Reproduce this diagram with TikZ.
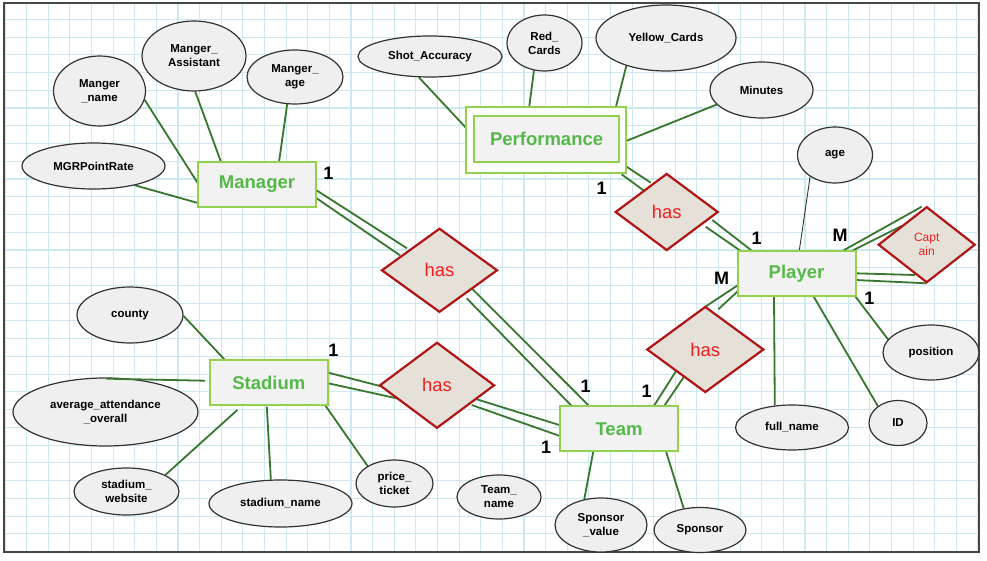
\documentclass[tikz,border=0pt]{standalone}
\usepackage{fontspec}
\setmainfont{Liberation Sans}
\usetikzlibrary{shapes.geometric}
\pgfdeclarelayer{gridlayer}
\pgfdeclarelayer{linklayer}
\pgfsetlayers{gridlayer,linklayer,main}
\definecolor{gridblue}{RGB}{204,232,240}
\definecolor{framegray}{RGB}{70,70,70}
\definecolor{linkgreen}{RGB}{56,118,45}
\definecolor{entborder}{RGB}{146,208,80}
\definecolor{enttext}{RGB}{84,185,72}
\definecolor{entfill}{RGB}{242,242,242}
\definecolor{attrfill}{RGB}{239,239,239}
\definecolor{attrborder}{RGB}{50,50,50}
\definecolor{relfill}{RGB}{230,225,216}
\definecolor{relborder}{RGB}{176,20,20}
\definecolor{reltext}{RGB}{240,30,30}
\tikzset{
  gridline/.style={draw=gridblue, line width=1.1},
  erbox/.style={draw=entborder, line width=2, fill=entfill, text=enttext,
    font=\fontsize{18.5}{20}\selectfont\bfseries, minimum width=118, minimum height=45, inner sep=0},
  erel/.style={diamond, draw=relborder, line width=2.2, fill=relfill, text=reltext,
    font=\fontsize{18.4}{20}\selectfont, inner sep=0},
  erattr/.style={ellipse, draw=attrborder, line width=1.2, fill=attrfill, inner sep=0,
    align=center, font=\fontsize{11.5}{14}\selectfont\bfseries},
  erlink/.style={draw=linkgreen, line width=1.8},
  thinlink/.style={draw=black!80, line width=0.9},
  ercard/.style={font=\fontsize{18}{20}\selectfont\bfseries, inner sep=0}
}
\begin{document}
\begin{tikzpicture}[x=1pt,y=-1pt]
\useasboundingbox (0,0) rectangle (987,561);
\begin{pgfonlayer}{gridlayer}
  \fill[white] (0,0) rectangle (987,561);
  \begin{scope}
    \clip (4,3) rectangle (979,552);
    \foreach \i in {0,...,45} \draw[gridline] ({5.08+21.62*\i},3) -- ({5.08+21.62*\i},552);
    \foreach \j in {0,...,31} \draw[gridline] (4,{1.6+17.74*\j}) -- (979,{1.6+17.74*\j});
  \end{scope}
  \draw[draw=framegray, line width=1.5] (4,3) rectangle (979,552);
\end{pgfonlayer}

% entities
\node[erbox] (mgr) at (257,184.5) {Manager};
\node[draw=entborder, line width=2, fill=white, minimum width=160, minimum height=66, inner sep=0] (perf) at (546.4,140) {};
\node[erbox, minimum width=145, minimum height=46] (perfin) at (546.6,139) {Performance};
\node[erbox] (player) at (796.5,273.5) {Player};
\node[erbox] (stadium) at (268.8,382.7) {Stadium};
\node[erbox] (team) at (619,428.8) {Team};

% relationships
\node[erel, minimum width=116, minimum height=84] (hasA) at (439.5,270.3) {has};
\node[erel, minimum width=115, minimum height=86] (hasB) at (437,385.3) {has};
\node[erel, minimum width=103, minimum height=77] (hasC) at (666.7,212) {has};
\node[erel, minimum width=117, minimum height=86] (hasD) at (705.3,349.5) {has};
\node[erel, minimum width=97, minimum height=76, align=center, font=\fontsize{12}{14}\selectfont] (cap) at (926.7,244.7) {Capt\\ain};

% attributes
\node[erattr, minimum width=92, minimum height=70] (mname) at (99.5,91) {Manger\\\_name};
\node[erattr, minimum width=104, minimum height=70] (massist) at (194,56) {Manger\_\\Assistant};
\node[erattr, minimum width=96, minimum height=54] (mage) at (295,77) {Manger\_\\age};
\node[erattr, minimum width=143, minimum height=46] (mgrpr) at (93.5,166) {MGRPointRate};
\node[erattr, minimum width=144, minimum height=41] (shot) at (430,56.5) {Shot\_Accuracy};
\node[erattr, minimum width=75, minimum height=56] (red) at (544.5,43) {Red\_\\Cards};
\node[erattr, minimum width=140, minimum height=66] (yellow) at (666,38) {Yellow\_Cards};
\node[erattr, minimum width=103, minimum height=56] (minutes) at (761.5,90) {Minutes};
\node[erattr, minimum width=75, minimum height=56] (age) at (835,155) {age};
\node[erattr, minimum width=96, minimum height=55] (position) at (931,352.5) {position};
\node[erattr, minimum width=58, minimum height=45] (idattr) at (898,423) {ID};
\node[erattr, minimum width=113, minimum height=45] (fullname) at (792,427.5) {full\_name};
\node[erattr, minimum width=92, minimum height=45] (sponsor) at (700,530) {Sponsor};
\node[erattr, minimum width=92, minimum height=54] (sval) at (601,525) {Sponsor\\\_value};
\node[erattr, minimum width=84, minimum height=44] (tname) at (499,497) {Team\_\\name};
\node[erattr, minimum width=106, minimum height=56] (county) at (130,315) {county};
\node[erattr, minimum width=185, minimum height=68] (avg) at (105.5,412) {average\_attendance\\\_overall};
\node[erattr, minimum width=105, minimum height=47] (website) at (126.5,491.5) {stadium\_\\website};
\node[erattr, minimum width=143, minimum height=47] (sname) at (280.5,503.5) {stadium\_name};
\node[erattr, minimum width=77, minimum height=47] (price) at (394.5,483.5) {price\_\\ticket};

% cardinalities
\node[ercard] (c1) at (328.3,173.3) {1};
\node[ercard] (c2) at (601.7,188.3) {1};
\node[ercard] (c3) at (756.7,238.3) {1};
\node[ercard] (c4) at (840,235) {M};
\node[ercard] (c5) at (721.7,278.3) {M};
\node[ercard] (c6) at (869.3,298.3) {1};
\node[ercard] (c7) at (333.3,350) {1};
\node[ercard] (c8) at (585.7,386.7) {1};
\node[ercard] (c9) at (646.7,391.7) {1};
\node[ercard] (c10) at (546,447.5) {1};

\draw[erlink] ([shift={(1,1.3)}]avg.north) -- ([shift={(-63.8,-2)}]stadium.center);

\begin{pgfonlayer}{linklayer}
  % manager attributes
  \draw[erlink] (mname.-11.7) -- ([shift={(-59,-1)}]mgr.center);
  \draw[erlink] (massist.-88.3) -- ([shift={(-36,-22.5)}]mgr.center);
  \draw[erlink] (mage.-106.3) -- ([shift={(22,-22.5)}]mgr.center);
  \draw[erlink] (mgrpr.-25.4) -- ([shift={(-59,18.5)}]mgr.center);
  % manager - has - team
  \draw[erlink] ([shift={(59,5.5)}]mgr.center) -- ([shift={(-32.5,-22)}]hasA.center);
  \draw[erlink] ([shift={(57,12)}]mgr.center) -- ([shift={(-39.5,-15)}]hasA.center);
  \draw[erlink] ([shift={(32.2,18)}]hasA.center) -- ([shift={(-29,-22)}]team.center);
  \draw[erlink] ([shift={(27.2,28)}]hasA.center) -- ([shift={(-47,-22.5)}]team.center);
  % stadium - has - team
  \draw[erlink] ([shift={(59.5,-10)}]stadium.center) -- ([shift={(-57,0.7)}]hasB.center);
  \draw[erlink] ([shift={(59.5,0.6)}]stadium.center) -- ([shift={(-40.3,13)}]hasB.center);
  \draw[erlink] ([shift={(39.7,14)}]hasB.center) -- ([shift={(-59.7,-3.8)}]team.center);
  \draw[erlink] ([shift={(34.7,19.7)}]hasB.center) -- ([shift={(-59,7.2)}]team.center);
  % performance - has - player
  \draw[erlink] ([shift={(80.2,26.7)}]perf.center) -- ([shift={(-16,-29.3)}]hasC.center);
  \draw[erlink] ([shift={(75.2,34.3)}]perf.center) -- ([shift={(-22.7,-21.3)}]hasC.center);
  \draw[erlink] ([shift={(45.6,8)}]hasC.center) -- ([shift={(-45,-23)}]player.center);
  \draw[erlink] ([shift={(39,14.7)}]hasC.center) -- ([shift={(-56.5,-23)}]player.center);
  % team - has - player
  \draw[erlink] ([shift={(35,-23)}]team.center) -- ([shift={(-28.6,20.5)}]hasD.center);
  \draw[erlink] ([shift={(45.3,-23)}]team.center) -- ([shift={(-18.6,23.2)}]hasD.center);
  \draw[erlink] ([shift={(0,-42.8)}]hasD.center) -- ([shift={(-54.8,9.2)}]player.center);
  \draw[erlink] ([shift={(13,-40.2)}]hasD.center) -- ([shift={(-53.8,13.2)}]player.center);
  % player - captain
  \draw[erlink] ([shift={(46.8,-23)}]player.center) -- ([shift={(-5,-38)}]cap.center);
  \draw[erlink] ([shift={(55.2,-22.5)}]player.center) -- ([shift={(-25,-18.7)}]cap.center);
  \draw[erlink] ([shift={(59,-0.2)}]player.center) -- ([shift={(-11.7,30.3)}]cap.center);
  \draw[erlink] ([shift={(59,6.5)}]player.center) -- ([shift={(0,38.6)}]cap.center);
  % player attributes
  \draw[thinlink] (age.-139.9) -- ([shift={(2.8,-23)}]player.center);
  \draw[erlink] (fullname.128.7) -- ([shift={(-22.5,22.5)}]player.center);
  \draw[erlink] (idattr.140.4) -- ([shift={(16.8,22.5)}]player.center);
  \draw[erlink] (position.163.4) -- ([shift={(58.5,22.5)}]player.center);
  % performance attributes
  \draw[erlink] (shot.-118.2) -- ([shift={(-80,-11.7)}]perf.center);
  \draw[erlink] (red.-111.3) -- ([shift={(-17.2,-33)}]perf.center);
  \draw[erlink] (yellow.-145.5) -- ([shift={(69.5,-33)}]perf.center);
  \draw[erlink] (minutes.-162.6) -- ([shift={(80.5,0.7)}]perf.center);
  % stadium attributes
  \draw[erlink] (county.-1) -- ([shift={(-43.8,-22.7)}]stadium.center);
  \draw[erlink] (website.23.2) -- ([shift={(-31.5,27.3)}]stadium.center);
  \draw[erlink] (sname.112) -- ([shift={(-2,24)}]stadium.center);
  \draw[erlink] (price.147.9) -- ([shift={(56.2,22.3)}]stadium.center);
  % team attributes
  \draw[erlink] (sval.123.5) -- ([shift={(-25.7,22.5)}]team.center);
  \draw[erlink] (sponsor.127.2) -- ([shift={(47,22.5)}]team.center);
\end{pgfonlayer}
\end{tikzpicture}
\end{document}
